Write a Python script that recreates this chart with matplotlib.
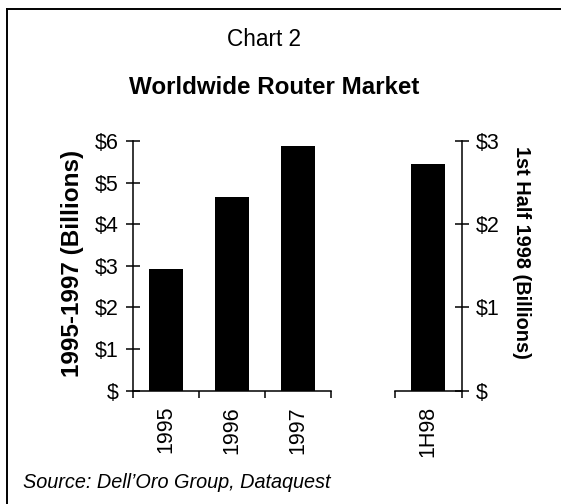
import matplotlib
matplotlib.use('Agg')
import matplotlib.pyplot as plt
from matplotlib.lines import Line2D

plt.rcParams['font.family'] = ['Liberation Sans', 'DejaVu Sans']

# annual market, 1995-1997, left scale
years = ['1995', '1996', '1997']
annual = [2.92, 4.65, 5.89]
# first half of 1998, right scale
half_label = ['1H98']
half = [2.72]

left_ticks = [0, 1, 2, 3, 4, 5, 6]
left_labels = ['$', '$1', '$2', '$3', '$4', '$5', '$6']
right_ticks = [0, 1, 2, 3]
right_labels = ['$', '$1', '$2', '$3']

fig = plt.figure(figsize=(5.61, 5.04), dpi=100)
W, H = 561, 504

def box(x0, x1, y0, y1):
    return [x0 / W, 1 - y1 / H, (x1 - x0) / W, (y1 - y0) / H]

ax1 = fig.add_axes(box(132.7, 331, 141, 390.7))
ax2 = fig.add_axes(box(395, 461.7, 141, 390.7))

lw = 1.1
fs = 15.5

ax1.bar(range(len(years)), annual, width=0.51, color='black')
ax1.set_xlim(-0.5, len(years) - 0.5)
ax1.set_ylim(0, 6)
ax1.set_yticks(left_ticks)
ax1.set_yticklabels(left_labels, fontsize=fs)
ax1.tick_params(axis='y', direction='inout', length=10, width=lw, pad=5)
ax1.set_xticks([i - 0.5 for i in range(len(years) + 1)])
ax1.set_xticklabels([])
ax1.set_xticks(range(len(years)), minor=True)
ax1.set_xticklabels(years, minor=True, rotation=90, fontsize=fs)
ax1.tick_params(axis='x', which='major', direction='out', length=5, width=lw)
ax1.tick_params(axis='x', which='minor', length=0, pad=11)
for s in ['top', 'right']:
    ax1.spines[s].set_visible(False)
for s in ['left', 'bottom']:
    ax1.spines[s].set_linewidth(lw)
ax1.set_ylabel('1995-1997 (Billions)', fontsize=17.5, fontweight='bold',
               va='center')
ax1.yaxis.set_label_coords(-0.306, 0.51)

ax2.bar(range(len(half_label)), half, width=0.51, color='black')
ax2.set_xlim(-0.5, 0.5)
ax2.set_ylim(0, 3)
ax2.yaxis.tick_right()
ax2.yaxis.set_label_position('right')
ax2.set_yticks(right_ticks)
ax2.set_yticklabels(right_labels, fontsize=fs)
ax2.tick_params(axis='y', direction='inout', length=10, width=lw, pad=5)
ax2.set_xticks([-0.5, 0.5])
ax2.set_xticklabels([])
ax2.set_xticks([0], minor=True)
ax2.set_xticklabels(half_label, minor=True, rotation=90, fontsize=fs)
ax2.tick_params(axis='x', which='major', direction='out', length=5, width=lw)
ax2.tick_params(axis='x', which='minor', length=0, pad=11)
for s in ['top', 'left']:
    ax2.spines[s].set_visible(False)
for s in ['right', 'bottom']:
    ax2.spines[s].set_linewidth(lw)
ax2.set_ylabel('1st Half 1998 (Billions)', fontsize=14.3, fontweight='bold',
               rotation=270, va='center')
ax2.yaxis.set_label_coords(1.904, 0.555)

fig.text(264 / W, 1 - 40 / H, 'Chart 2', fontsize=16.3, ha='center', va='center')
fig.text(274 / W, 1 - 88 / H, 'Worldwide Router Market', fontsize=17.4,
         fontweight='bold', ha='center', va='center')
fig.text(23 / W, 1 - 483 / H, 'Source: Dell\u2019Oro Group, Dataquest',
         fontsize=14.3, style='italic', ha='left', va='center')

# frame around the exhibit: top and left edges
fig.add_artist(Line2D([7 / W, 1], [1 - 9 / H, 1 - 9 / H], color='black', lw=1.4))
fig.add_artist(Line2D([7 / W, 7 / W], [0, 1 - 9 / H], color='black', lw=1.4))

fig.savefig('out.png', dpi=100)
